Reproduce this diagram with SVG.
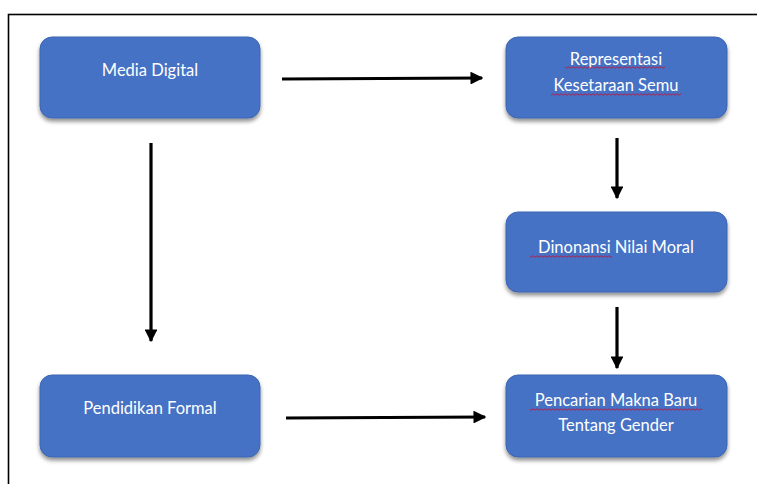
<svg xmlns="http://www.w3.org/2000/svg" width="757" height="484" viewBox="0 0 757 484">
<defs>
<filter id="sh" x="-10%" y="-10%" width="120%" height="130%">
<feGaussianBlur in="SourceAlpha" stdDeviation="2"/>
<feOffset dx="0" dy="3" result="b"/>
<feComponentTransfer><feFuncA type="linear" slope="0.45"/></feComponentTransfer>
<feMerge><feMergeNode/><feMergeNode in="SourceGraphic"/></feMerge>
</filter>
<marker id="ah" viewBox="0 0 10 10" refX="9" refY="5" markerWidth="4" markerHeight="4" markerUnits="strokeWidth" orient="auto">
<path d="M0,0 L10,5 L0,10 z" fill="#000"/>
</marker>
<pattern id="sqp" x="0" y="0" width="4" height="3" patternUnits="userSpaceOnUse">
<path d="M0,1.5 Q1,0 2,1.5 Q3,3 4,1.5" fill="none" stroke="#C0143C" stroke-width="0.9"/>
</pattern>
</defs>
<style>
.box{fill:#4472C4;stroke:#3C66B2;stroke-width:1;filter:url(#sh)}
.lbl{fill:#fff;font-family:Lato,"Open Sans",sans-serif;font-size:16.5px;text-anchor:middle}
.edge{stroke:#000;stroke-width:3.2;fill:none;marker-end:url(#ah)}
.sq{fill:url(#sqp)}
</style>
<rect x="8.5" y="14.5" width="760" height="480" fill="#fff" stroke="#000" stroke-width="1.6"/>
<g id="connectors">
<line class="edge" x1="282" y1="79" x2="482" y2="78"/>
<line class="edge" x1="151" y1="143" x2="151" y2="341"/>
<line class="edge" x1="617" y1="138" x2="617" y2="198"/>
<line class="edge" x1="617" y1="307" x2="617" y2="368"/>
<line class="edge" x1="286" y1="418" x2="485" y2="417"/>
</g>
<g id="media-digital">
<rect class="box" x="40" y="37" width="220" height="81" rx="12"/>
<text class="lbl" x="150" y="76">Media Digital</text>
</g>
<g id="representasi">
<rect class="box" x="506" y="37" width="221" height="81" rx="12"/>
<text class="lbl" x="616" y="65">Representasi</text>
<text class="lbl" x="616" y="91">Kesetaraan Semu</text>
<rect class="sq" x="565" y="66" width="100" height="3"/>
<rect class="sq" x="551" y="93" width="130" height="3"/>
</g>
<g id="dinonansi">
<rect class="box" x="506" y="212" width="221" height="80" rx="12"/>
<text class="lbl" x="616" y="253">Dinonansi Nilai Moral</text>
<rect class="sq" x="530" y="255" width="82" height="3"/>
</g>
<g id="pendidikan-formal">
<rect class="box" x="40" y="375" width="220" height="82" rx="12"/>
<text class="lbl" x="150" y="414">Pendidikan Formal</text>
</g>
<g id="pencarian">
<rect class="box" x="506" y="375" width="221" height="82" rx="12"/>
<text class="lbl" x="616" y="406">Pencarian Makna Baru</text>
<text class="lbl" x="616" y="431">Tentang Gender</text>
<rect class="sq" x="530" y="408" width="172" height="3"/>
</g>
</svg>
